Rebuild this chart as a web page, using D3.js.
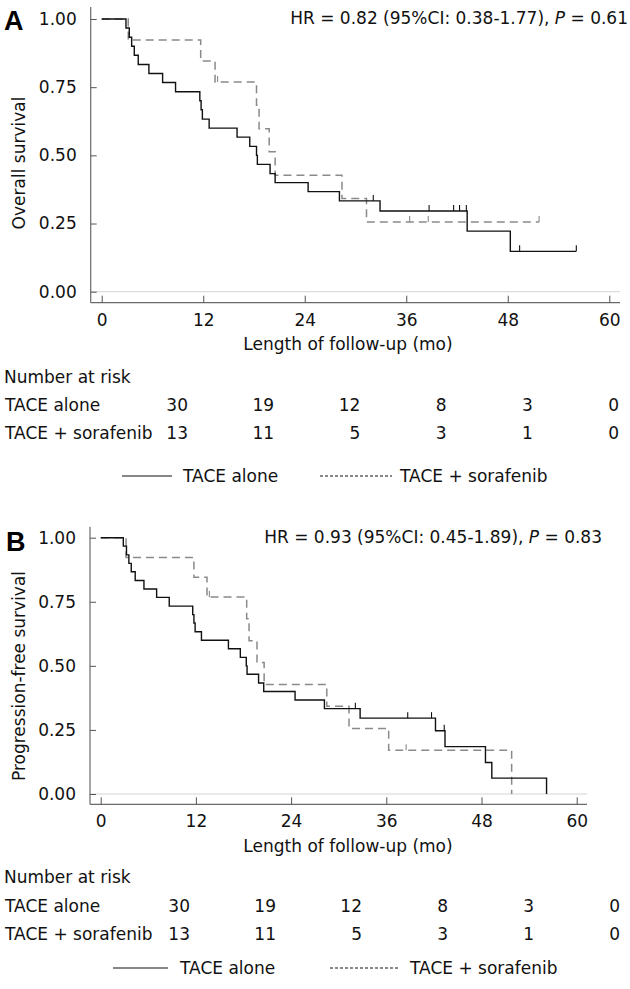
<!DOCTYPE html>
<html>
<head>
<meta charset="utf-8">
<script src="https://cdn.jsdelivr.net/npm/d3@7"></script>
<style>
  html, body { margin: 0; padding: 0; background: #fff; }
  svg { display: block; }
</style>
</head>
<body>
<svg id="chart" width="630" height="989"></svg>
<script>
// ---------------- DATA ----------------
const timeTicks = [0, 12, 24, 36, 48, 60];
const survTicks = [0, 0.25, 0.5, 0.75, 1];
const groups = ["TACE alone", "TACE + sorafenib"];
const atRiskAlone = [30, 19, 12, 8, 3, 0];
const atRiskSora = [13, 11, 5, 3, 1, 0];

// Panel A: overall survival
const osAloneTimes = [0, 2.87, 3.26, 3.54, 3.85, 4.32, 5.58, 7.2, 8.73, 11.6, 11.75, 11.9, 12.7, 16.0, 17.5, 18.3, 18.4, 19.9, 20.5, 24.4, 28.1, 32.9, 43.2, 48.3];
const osAloneSurv = [1, .967, .933, .9, .867, .833, .8, .767, .733, .7, .667, .633, .6, .567, .533, .5, .467, .433, .4, .367, .333, .296, .222, .148];
const osAloneCensor = [32.1, 38.7, 41.6, 42.3, 43.1, 49.4, 56.1];
const osAloneEnd = 56.1;

const osSoraTimes = [0, 3.14, 11.7, 13.4, 18.3, 18.6, 19.8, 20.5, 28.4, 31.3];
const osSoraSurv = [1, .923, .846, .769, .684, .598, .513, .427, .342, .256];
const osSoraCensor = [13.7, 36.4, 38.6, 51.7];
const osSoraEnd = 51.7;

// Panel B: progression-free survival
const pfsAloneTimes = [0, 2.85, 3.25, 3.55, 3.85, 4.35, 5.45, 7.05, 8.64, 11.6, 11.75, 11.9, 12.7, 16.1, 17.6, 18.35, 18.45, 19.9, 20.55, 24.5, 28.2, 32.7, 42.2, 43.4, 48.5, 49.3, 56.2];
const pfsAloneSurv = [1, .967, .933, .9, .867, .833, .8, .767, .733, .7, .667, .633, .6, .567, .533, .5, .467, .433, .4, .367, .333, .296, .247, .185, .123, .062, 0];
const pfsAloneCensor = [32.1, 38.7, 41.7, 43.3];
const pfsAloneEnd = 56.2;

const pfsSoraTimes = [0, 3.2, 11.75, 13.4, 18.4, 18.7, 19.7, 20.6, 28.5, 31.3, 36.3, 51.8];
const pfsSoraSurv = [1, .923, .846, .769, .684, .598, .513, .427, .342, .256, .171, 0];
const pfsSoraCensor = [13.7, 38.5];
const pfsSoraEnd = 51.8;

const hrTextA = "HR = 0.82 (95%CI: 0.38-1.77), ";
const pTextA = "0.61";
const hrTextB = "HR = 0.93 (95%CI: 0.45-1.89), ";
const pTextB = "0.83";

// ---------------- DRAWING ----------------
const svg = d3.select("#chart");
const FONT = "DejaVu Sans, Verdana, sans-serif";
const FS = 17;

function drawPanel(cfg) {
  const g = svg.append("g");
  const x = d3.scaleLinear().domain([0, 60]).range([cfg.x0, cfg.x60]);
  const y = d3.scaleLinear().domain([0, 1]).range([cfg.y0, cfg.y1]);

  // light reference line at 0.00
  g.append("line")
    .attr("x1", cfg.axX).attr("x2", cfg.axRight)
    .attr("y1", y(0)).attr("y2", y(0))
    .attr("stroke", "#d4d4d4").attr("stroke-width", 1);

  // axis lines
  g.append("line")
    .attr("x1", cfg.axX).attr("x2", cfg.axX)
    .attr("y1", cfg.axTop).attr("y2", cfg.axY)
    .attr("stroke", "#6a6a6a").attr("stroke-width", 1.2);
  g.append("line")
    .attr("x1", cfg.axX).attr("x2", cfg.axRight)
    .attr("y1", cfg.axY).attr("y2", cfg.axY)
    .attr("stroke", "#6a6a6a").attr("stroke-width", 1.2);

  // x axis
  const xa = g.append("g").attr("transform", `translate(0,${cfg.axY})`)
    .call(d3.axisBottom(x).tickValues(timeTicks).tickSize(-7).tickPadding(cfg.xPad).tickFormat(d3.format("d")));
  xa.select(".domain").remove();
  xa.selectAll(".tick line").attr("stroke", "#555");
  xa.selectAll("text").attr("font-family", FONT).attr("font-size", FS).attr("fill", "#111");

  // y axis
  const ya = g.append("g").attr("transform", `translate(${cfg.axX},0)`)
    .call(d3.axisLeft(y).tickValues(survTicks).tickSize(-6).tickPadding(14).tickFormat(d3.format(".2f")));
  ya.select(".domain").remove();
  ya.selectAll(".tick line").attr("stroke", "#555");
  ya.selectAll("text").attr("font-family", FONT).attr("font-size", FS).attr("fill", "#111");

  // curves
  const line = d3.line().x(d => x(d[0])).y(d => y(d[1])).curve(d3.curveStepAfter);
  function curve(times, surv, end, cens, style) {
    const pts = times.map((t, i) => [t, surv[i]]);
    if (end > times[times.length - 1]) pts.push([end, surv[surv.length - 1]]);
    g.append("path").datum(pts)
      .attr("d", line)
      .attr("fill", "none")
      .attr("stroke", style.color)
      .attr("stroke-width", style.width)
      .attr("stroke-dasharray", style.dash);
    const survAt = c => {
      let s = surv[0];
      for (let i = 0; i < times.length; i++) if (times[i] <= c) s = surv[i];
      return s;
    };
    g.selectAll(null).data(cens).enter().append("line")
      .attr("x1", d => x(d)).attr("x2", d => x(d))
      .attr("y1", d => y(survAt(d))).attr("y2", d => y(survAt(d)) - 6)
      .attr("stroke", style.color).attr("stroke-width", 1.1);
  }
  const soraStyle = { color: "#8a8a8a", width: 1.5, dash: "8,5" };
  const aloneStyle = { color: "#111", width: 1.4, dash: null };
  curve(cfg.soraT, cfg.soraS, cfg.soraEnd, cfg.soraC, soraStyle);
  curve(cfg.aloneT, cfg.aloneS, cfg.aloneEnd, cfg.aloneC, aloneStyle);

  // panel letter
  g.append("text").attr("x", cfg.letterX).attr("y", cfg.letterY)
    .attr("font-family", "Liberation Sans, Arial, sans-serif").attr("font-weight", "bold")
    .attr("font-size", 27).attr("fill", "#000").text(cfg.letter);

  // HR text
  const hr = g.append("text").attr("x", cfg.hrX).attr("y", cfg.hrY)
    .attr("text-anchor", "end").attr("font-family", FONT).attr("font-size", FS).attr("fill", "#111");
  hr.append("tspan").text(cfg.hr);
  hr.append("tspan").attr("font-style", "italic").text("P");
  hr.append("tspan").text(" = " + cfg.p);

  // y title
  g.append("text")
    .attr("transform", `translate(${cfg.yTitleX},${cfg.yTitleY}) rotate(-90)`)
    .attr("text-anchor", "middle").attr("font-family", FONT).attr("font-size", FS).attr("fill", "#111")
    .text(cfg.yTitle);

  // x title
  g.append("text").attr("x", cfg.xTitleX).attr("y", cfg.xTitleY)
    .attr("text-anchor", "middle").attr("font-family", FONT).attr("font-size", FS).attr("fill", "#111")
    .text("Length of follow-up (mo)");

  // number at risk
  g.append("text").attr("x", 4).attr("y", cfg.narY)
    .attr("font-family", FONT).attr("font-size", FS).attr("fill", "#111").text("Number at risk");
  const riskX = d3.scalePoint().domain(timeTicks).range(cfg.riskRange);
  [atRiskAlone, atRiskSora].forEach((arr, k) => {
    const ry = cfg.riskY[k];
    g.append("text").attr("x", 5).attr("y", ry)
      .attr("font-family", FONT).attr("font-size", FS).attr("fill", "#111").text(groups[k]);
    g.selectAll(null).data(arr).enter().append("text")
      .attr("x", (d, i) => riskX(timeTicks[i])).attr("y", ry)
      .attr("text-anchor", "end")
      .attr("font-family", FONT).attr("font-size", FS).attr("fill", "#111")
      .text(d => d);
  });

  // legend
  const L = cfg.legend;
  g.append("line").attr("x1", L.s1).attr("x2", L.s2).attr("y1", L.y - 6).attr("y2", L.y - 6)
    .attr("stroke", "#111").attr("stroke-width", 1.1);
  g.append("text").attr("x", L.t1).attr("y", L.y)
    .attr("font-family", FONT).attr("font-size", FS).attr("fill", "#111").text(groups[0]);
  g.append("line").attr("x1", L.d1).attr("x2", L.d2).attr("y1", L.y - 6).attr("y2", L.y - 6)
    .attr("stroke", "#111").attr("stroke-width", 1).attr("stroke-dasharray", "3,2");
  g.append("text").attr("x", L.t2).attr("y", L.y)
    .attr("font-family", FONT).attr("font-size", FS).attr("fill", "#111").text(groups[1]);
}

drawPanel({
  letter: "A", letterX: 4, letterY: 30,
  x0: 101.7, x60: 609.3, y0: 291.7, y1: 19,
  axX: 90.7, axY: 302.7, axTop: 7, axRight: 620,
  xPad: 11,
  aloneT: osAloneTimes, aloneS: osAloneSurv, aloneC: osAloneCensor, aloneEnd: osAloneEnd,
  soraT: osSoraTimes, soraS: osSoraSurv, soraC: osSoraCensor, soraEnd: osSoraEnd,
  hr: hrTextA, p: pTextA, hrX: 628, hrY: 24,
  yTitle: "Overall survival", yTitleX: 25, yTitleY: 163,
  xTitleX: 348, xTitleY: 350,
  narY: 383, riskY: [411, 439], riskRange: [188, 619],
  legend: { y: 482, s1: 122, s2: 172, t1: 183, d1: 320, d2: 392, t2: 400 }
});

drawPanel({
  letter: "B", letterX: 6, letterY: 551,
  x0: 100.7, x60: 576.7, y0: 794, y1: 537.7,
  axX: 90, axY: 804.3, axTop: 526.7, axRight: 587,
  xPad: 11,
  aloneT: pfsAloneTimes, aloneS: pfsAloneSurv, aloneC: pfsAloneCensor, aloneEnd: pfsAloneEnd,
  soraT: pfsSoraTimes, soraS: pfsSoraSurv, soraC: pfsSoraCensor, soraEnd: pfsSoraEnd,
  hr: hrTextB, p: pTextB, hrX: 602, hrY: 543,
  yTitle: "Progression-free survival", yTitleX: 25, yTitleY: 676,
  xTitleX: 348, xTitleY: 852,
  narY: 883, riskY: [912, 940], riskRange: [190, 620],
  legend: { y: 974, s1: 113, s2: 168, t1: 180, d1: 330, d2: 400, t2: 410 }
});
</script>
</body>
</html>
